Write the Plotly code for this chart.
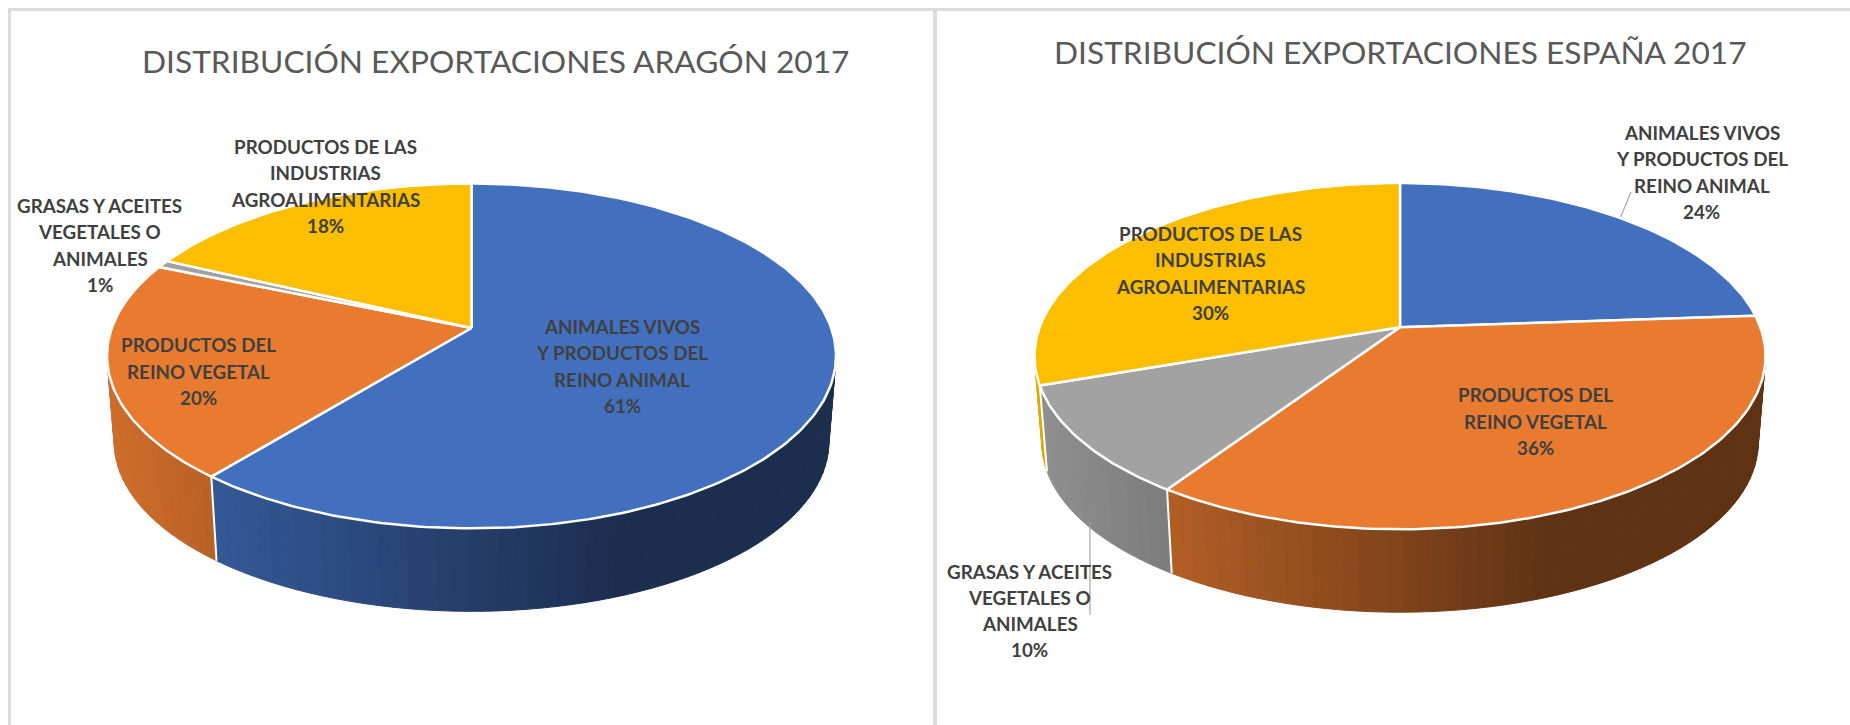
import math
import plotly.graph_objects as go

# ---- data ----
categories = ["ANIMALES VIVOS<br>Y PRODUCTOS DEL<br>REINO ANIMAL",
              "PRODUCTOS DEL<br>REINO VEGETAL",
              "GRASAS Y ACEITES<br>VEGETALES O<br>ANIMALES",
              "PRODUCTOS DE LAS<br>INDUSTRIAS<br>AGROALIMENTARIAS"]
aragon_values = [60.9, 20.4, 0.7, 18.0]
espana_values = [23.9, 35.5, 10.3, 30.3]
aragon_labels = ["61%", "20%", "1%", "18%"]
espana_labels = ["24%", "36%", "10%", "30%"]
slice_colors = ["#4270BF", "#E97B30", "#A2A2A2", "#FBBE00"]
aragon_title = "DISTRIBUCIÓN EXPORTACIONES ARAGÓN 2017"
espana_title = "DISTRIBUCIÓN EXPORTACIONES ESPAÑA 2017"

# ---- layout / style ----
W, H = 1850, 725
TEXT_FONT = "Lato"
LABEL_SIZE = 18.8
LINE_STEP = 26.3
TITLE_SIZE = 31.7
aragon_geom = dict(cx=471.5, y0=328.0, a=359.7, b=167.9, k=0.162, s=0.98, drop=87.0)
espana_geom = dict(cx=1400.0, y0=327.3, a=360.4, b=168.3, k=0.1667, s=0.98, drop=87.0)
aragon_label_pos = [(622, 366), (198, 371), (99.6, 245), (325.6, 186)]
espana_label_pos = [(1701.6, 172), (1535, 421), (1029.7, 610.5), (1210.5, 273)]
aragon_title_pos = (495.4, 60.5)
espana_title_pos = (1400.3, 52.2)
leader_x = [[1631, 1620.6], [1090, 1090]]
leader_y = [[192, 217], [522, 615]]


def rim(theta, g, base=False):
    d = 1 + g["k"] * math.cos(theta)
    s = g["s"] if base else 1.0
    x = g["cx"] + s * g["a"] * math.sin(theta) / d
    y = g["y0"] - s * g["b"] * math.cos(theta) / d + (g["drop"] if base else 0.0)
    return x, y


def shade(hex_color, rel):
    m = 0.41 if rel > 0.4 else 0.41 + (0.4 - rel) * 0.342
    r, g, b = (int(hex_color[i:i + 2], 16) for i in (1, 3, 5))
    return f"rgb({r * m:.0f},{g * m:.0f},{b * m:.0f})"


def arcs(values):
    total = sum(values)
    out, c = [], 0.0
    for v in values:
        out.append((2 * math.pi * c / total, 2 * math.pi * (c + v) / total))
        c += v
    return out


fig = go.Figure()


def add_pie(values, g):
    spans = arcs(values)
    t_right = math.acos(-g["k"])
    t_left = 2 * math.pi - t_right
    rx = g["a"] / math.sqrt(1 - g["k"] ** 2)

    # gradient-shaded side wall
    for (t0, t1), col in zip(spans, slice_colors):
        lo, hi = max(t0, t_right), min(t1, t_left)
        if hi <= lo:
            continue
        n = max(1, int(math.degrees(hi - lo) / 2))
        for i in range(n):
            a0 = lo + (hi - lo) * i / n
            a1 = lo + (hi - lo) * (i + 1) / n
            p = [rim(a0, g), rim(a1, g), rim(a1, g, True), rim(a0, g, True), rim(a0, g)]
            rel = (rim((a0 + a1) / 2, g)[0] - g["cx"]) / rx
            c = shade(col, rel)
            fig.add_trace(go.Scatter(x=[q[0] for q in p], y=[q[1] for q in p], mode="lines",
                                     fill="toself", fillcolor=c, line=dict(color=c, width=1),
                                     hoverinfo="skip", showlegend=False))
    # white seams on the wall
    for t0, _ in spans:
        if t_right < t0 < t_left:
            p = [rim(t0, g), rim(t0, g, True)]
            fig.add_trace(go.Scatter(x=[q[0] for q in p], y=[q[1] for q in p], mode="lines",
                                     line=dict(color="white", width=2),
                                     hoverinfo="skip", showlegend=False))
    # top surface
    for (t0, t1), col in zip(spans, slice_colors):
        n = max(2, int(math.degrees(t1 - t0)))
        p = [(g["cx"], g["y0"])] + [rim(t0 + (t1 - t0) * i / n, g) for i in range(n + 1)] + [(g["cx"], g["y0"])]
        fig.add_trace(go.Scatter(x=[q[0] for q in p], y=[q[1] for q in p], mode="lines",
                                 fill="toself", fillcolor=col, line=dict(color="white", width=2.5),
                                 hoverinfo="skip", showlegend=False))


add_pie(aragon_values, aragon_geom)
add_pie(espana_values, espana_geom)

# leader lines of the right-hand chart
for xs, ys in zip(leader_x, leader_y):
    fig.add_trace(go.Scatter(x=xs, y=ys, mode="lines", line=dict(color="#A6A6A6", width=1.2),
                             hoverinfo="skip", showlegend=False))

annotations = []
for labels, pos in ((aragon_labels, aragon_label_pos), (espana_labels, espana_label_pos)):
    for cat, lab, (x, y) in zip(categories, labels, pos):
        lines = cat.split("<br>") + [lab]
        for i, line in enumerate(lines):
            annotations.append(dict(x=x, y=y + (i - (len(lines) - 1) / 2) * LINE_STEP,
                                    xref="x", yref="y", showarrow=False, text=line,
                                    font=dict(family=TEXT_FONT, size=LABEL_SIZE, color="#404040", weight="bold")))
for text, (x, y) in ((aragon_title, aragon_title_pos), (espana_title, espana_title_pos)):
    annotations.append(dict(x=x, y=y, xref="x", yref="y", showarrow=False, text=text,
                            font=dict(family=TEXT_FONT, size=TITLE_SIZE, color="#595959")))

frame = "#DCDCDC"
shapes = [
    dict(type="line", x0=8, x1=W, y0=9.5, y1=9.5, line=dict(color=frame, width=3), layer="below"),
    dict(type="line", x0=9.5, x1=9.5, y0=8, y1=H, line=dict(color=frame, width=3), layer="below"),
    dict(type="line", x0=935, x1=935, y0=8, y1=H, line=dict(color=frame, width=4), layer="below"),
]

fig.update_layout(
    width=W, height=H, autosize=False,
    margin=dict(l=0, r=0, t=0, b=0),
    paper_bgcolor="white", plot_bgcolor="white",
    xaxis=dict(range=[0, W], visible=False, fixedrange=True),
    yaxis=dict(range=[H, 0], visible=False, fixedrange=True),
    annotations=annotations, shapes=shapes, showlegend=False,
)
fig.write_html("out.html", config={"displayModeBar": False},
               post_script="document.body.style.margin='0';document.documentElement.style.overflow='hidden';")
